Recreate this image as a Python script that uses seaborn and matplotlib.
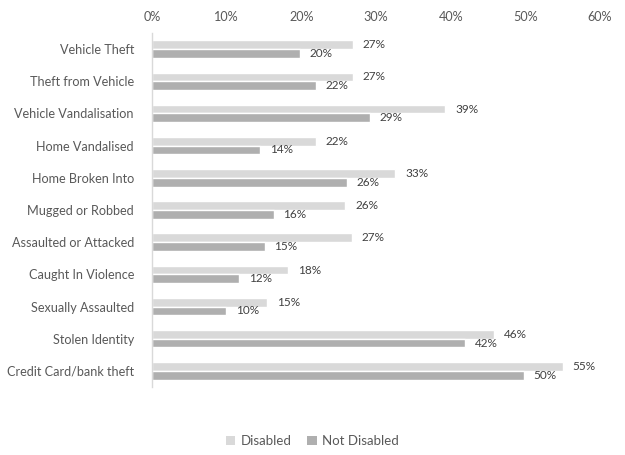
import matplotlib
matplotlib.use("Agg")
import matplotlib.pyplot as plt
import seaborn as sns
import pandas as pd
from matplotlib.ticker import PercentFormatter
from matplotlib.patches import Patch

categories = ["Vehicle Theft", "Theft from Vehicle", "Vehicle Vandalisation",
              "Home Vandalised", "Home Broken Into", "Mugged or Robbed",
              "Assaulted or Attacked", "Caught In Violence", "Sexually Assaulted",
              "Stolen Identity", "Credit Card/bank theft"]
disabled = [26.9, 26.9, 39.3, 22.0, 32.6, 25.9, 26.8, 18.2, 15.4, 45.8, 55.0]
not_disabled = [19.8, 22.0, 29.2, 14.5, 26.1, 16.3, 15.1, 11.7, 9.9, 41.9, 49.8]
series = ["Disabled", "Not Disabled"]
colors = ["#d9d9d9", "#afafaf"]
x_ticks = [0, 10, 20, 30, 40, 50, 60]

sns.set_style("white")
plt.rcParams["font.family"] = ["Lato", "DejaVu Sans"]

df = pd.DataFrame({
    "category": categories * 2,
    "value": disabled + not_disabled,
    "series": [series[0]] * len(categories) + [series[1]] * len(categories),
})

fig = plt.figure(figsize=(6.25, 4.55), dpi=100)
ax = fig.add_axes([152 / 625, 1 - 387 / 455, (600 - 152) / 625, (387 - 33) / 455])

sns.barplot(data=df, y="category", x="value", hue="series", order=categories,
            hue_order=series, palette=colors, orient="h", width=0.54,
            ax=ax, legend=False, saturation=1)

ax.set_xlim(0, 60)
ax.set_ylim(len(categories) - 0.5, -0.5)
ax.set_xticks(x_ticks)
ax.xaxis.set_major_formatter(PercentFormatter(decimals=0))
ax.xaxis.tick_top()
ax.tick_params(axis="both", length=0, labelsize=9.1, colors="#595959")
ax.tick_params(axis="y", pad=13)
ax.tick_params(axis="x", pad=7)
ax.set_xlabel("")
ax.set_ylabel("")
for s in ["top", "right", "bottom"]:
    ax.spines[s].set_visible(False)
ax.spines["left"].set_color("#d9d9d9")
ax.spines["left"].set_linewidth(1)

for container, vals in zip(ax.containers, [disabled, not_disabled]):
    for bar, v in zip(container, vals):
        y = bar.get_y() + bar.get_height() / 2
        ax.annotate(f"{round(v):.0f}%", xy=(bar.get_width(), y),
                    xytext=(7, 0), textcoords="offset points",
                    ha="left", va="center", fontsize=8.5, color="#404040")

handles = [Patch(facecolor=c, edgecolor="none", label=l) for c, l in zip(colors, series)]
fig.legend(handles=handles, loc="center", bbox_to_anchor=(0.5, 1 - 441 / 455),
           ncol=2, frameon=False, fontsize=9.5, handlelength=0.7, handleheight=0.7,
           handletextpad=0.4, columnspacing=1.2, labelcolor="#595959")

fig.savefig("out.png", dpi=100)
